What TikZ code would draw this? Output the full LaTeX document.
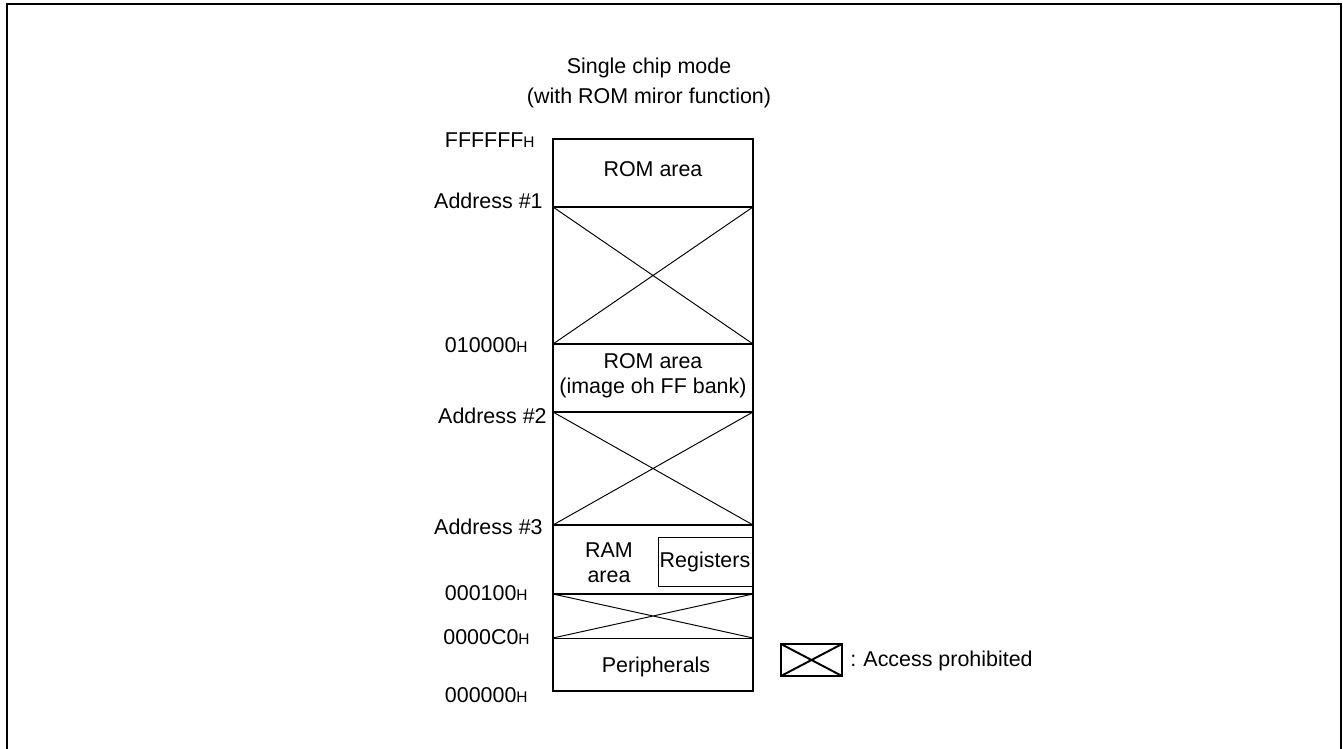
\documentclass[tikz,border=0pt]{standalone}
\usepackage{fontspec}
\setmainfont{Liberation Sans}
\usetikzlibrary{positioning}
\newcommand{\hsuf}{{\fontsize{8.8}{9}\selectfont H}}

\begin{document}
\begin{tikzpicture}[x=0.02cm,y=-0.02cm,
    every node/.style={font=\fontsize{12.2}{14.2}\selectfont,inner sep=0pt},
    area/.style={line width=0.95pt},
    cross/.style={line width=0.55pt}]
            \useasboundingbox (0,0) rectangle (1343,749);
            % frame, open at the bottom
            \draw[line width=1.2pt] (7,749) -- (7,4) -- (1341,4) -- (1341,749);
            % memory map corners
            \coordinate (tl) at (553,139);
            \coordinate (br) at (753,691);
            \coordinate (a1l) at (553,207);   \coordinate (a1r) at (753,207);
            \coordinate (b1l) at (553,344);   \coordinate (b1r) at (753,344);
            \coordinate (a2l) at (553,412);   \coordinate (a2r) at (753,412);
            \coordinate (a3l) at (553,525);   \coordinate (a3r) at (753,525);
            \coordinate (c1l) at (553,594);   \coordinate (c1r) at (753,594);
            \coordinate (c2l) at (553,638);   \coordinate (c2r) at (753,638);
            \draw[area] (a1l) -- (a1r);
            \draw[area] (b1l) -- (b1r);
            \draw[area] (a2l) -- (a2r);
            \draw[area] (a3l) -- (a3r);
            \draw[area] (c1l) -- (c1r);
            \draw[cross] (c2l) -- (c2r);
            \draw[cross] (a1l) -- (b1r) (a1r) -- (b1l);
            \draw[cross] (a2l) -- (a3r) (a2r) -- (a3l);
            \draw[cross] (c1l) -- (c2r) (c1r) -- (c2l);
            \draw[line width=1.2pt] (tl) rectangle (br);
            \node[draw,line width=0.55pt,minimum width=1.88cm,minimum height=0.98cm] (regs) at (705,561.5) {Registers};
            % texts
            \node[align=center] (title) at (649,83) {Single chip mode\\[2.8pt](with ROM miror function)};
            \node (rom1) at (653,169) {ROM area};
            \node[align=center] (rom2) at (653,375.5) {ROM area\\(image oh FF bank)};
            \node[align=center] (ram) at (609,562.5) {RAM\\area};
            \node (peri) at (656,667) {Peripherals};
            % addresses
            \node[anchor=east] (fff) at (535,140) {FFFFFF\hsuf};
            \node[anchor=east] (ad1) at (543,201) {Address \#1};
            \node[anchor=east] (ten) at (528,345) {010000\hsuf};
            \node[anchor=east] (ad2) at (547,416) {Address \#2};
            \node[anchor=east] (ad3) at (543,527) {Address \#3};
            \node[anchor=east] (hund) at (528,593) {000100\hsuf};
            \node[anchor=east] (cnul) at (530,637) {0000C0\hsuf};
            \node[anchor=east] (zero) at (528,695) {000000\hsuf};
            % legend
            \coordinate (lgtl) at (781,644);
            \coordinate (lgbr) at (842,676);
            \draw[line width=1.1pt] (lgtl) rectangle (lgbr);
            \draw[line width=1.1pt] (lgtl) -- (lgbr) (lgtl |- lgbr) -- (lgbr |- lgtl);
            \node[anchor=west] (legend) at (850,661) {:\,\,Access prohibited};
        \end{tikzpicture}
\end{document}
